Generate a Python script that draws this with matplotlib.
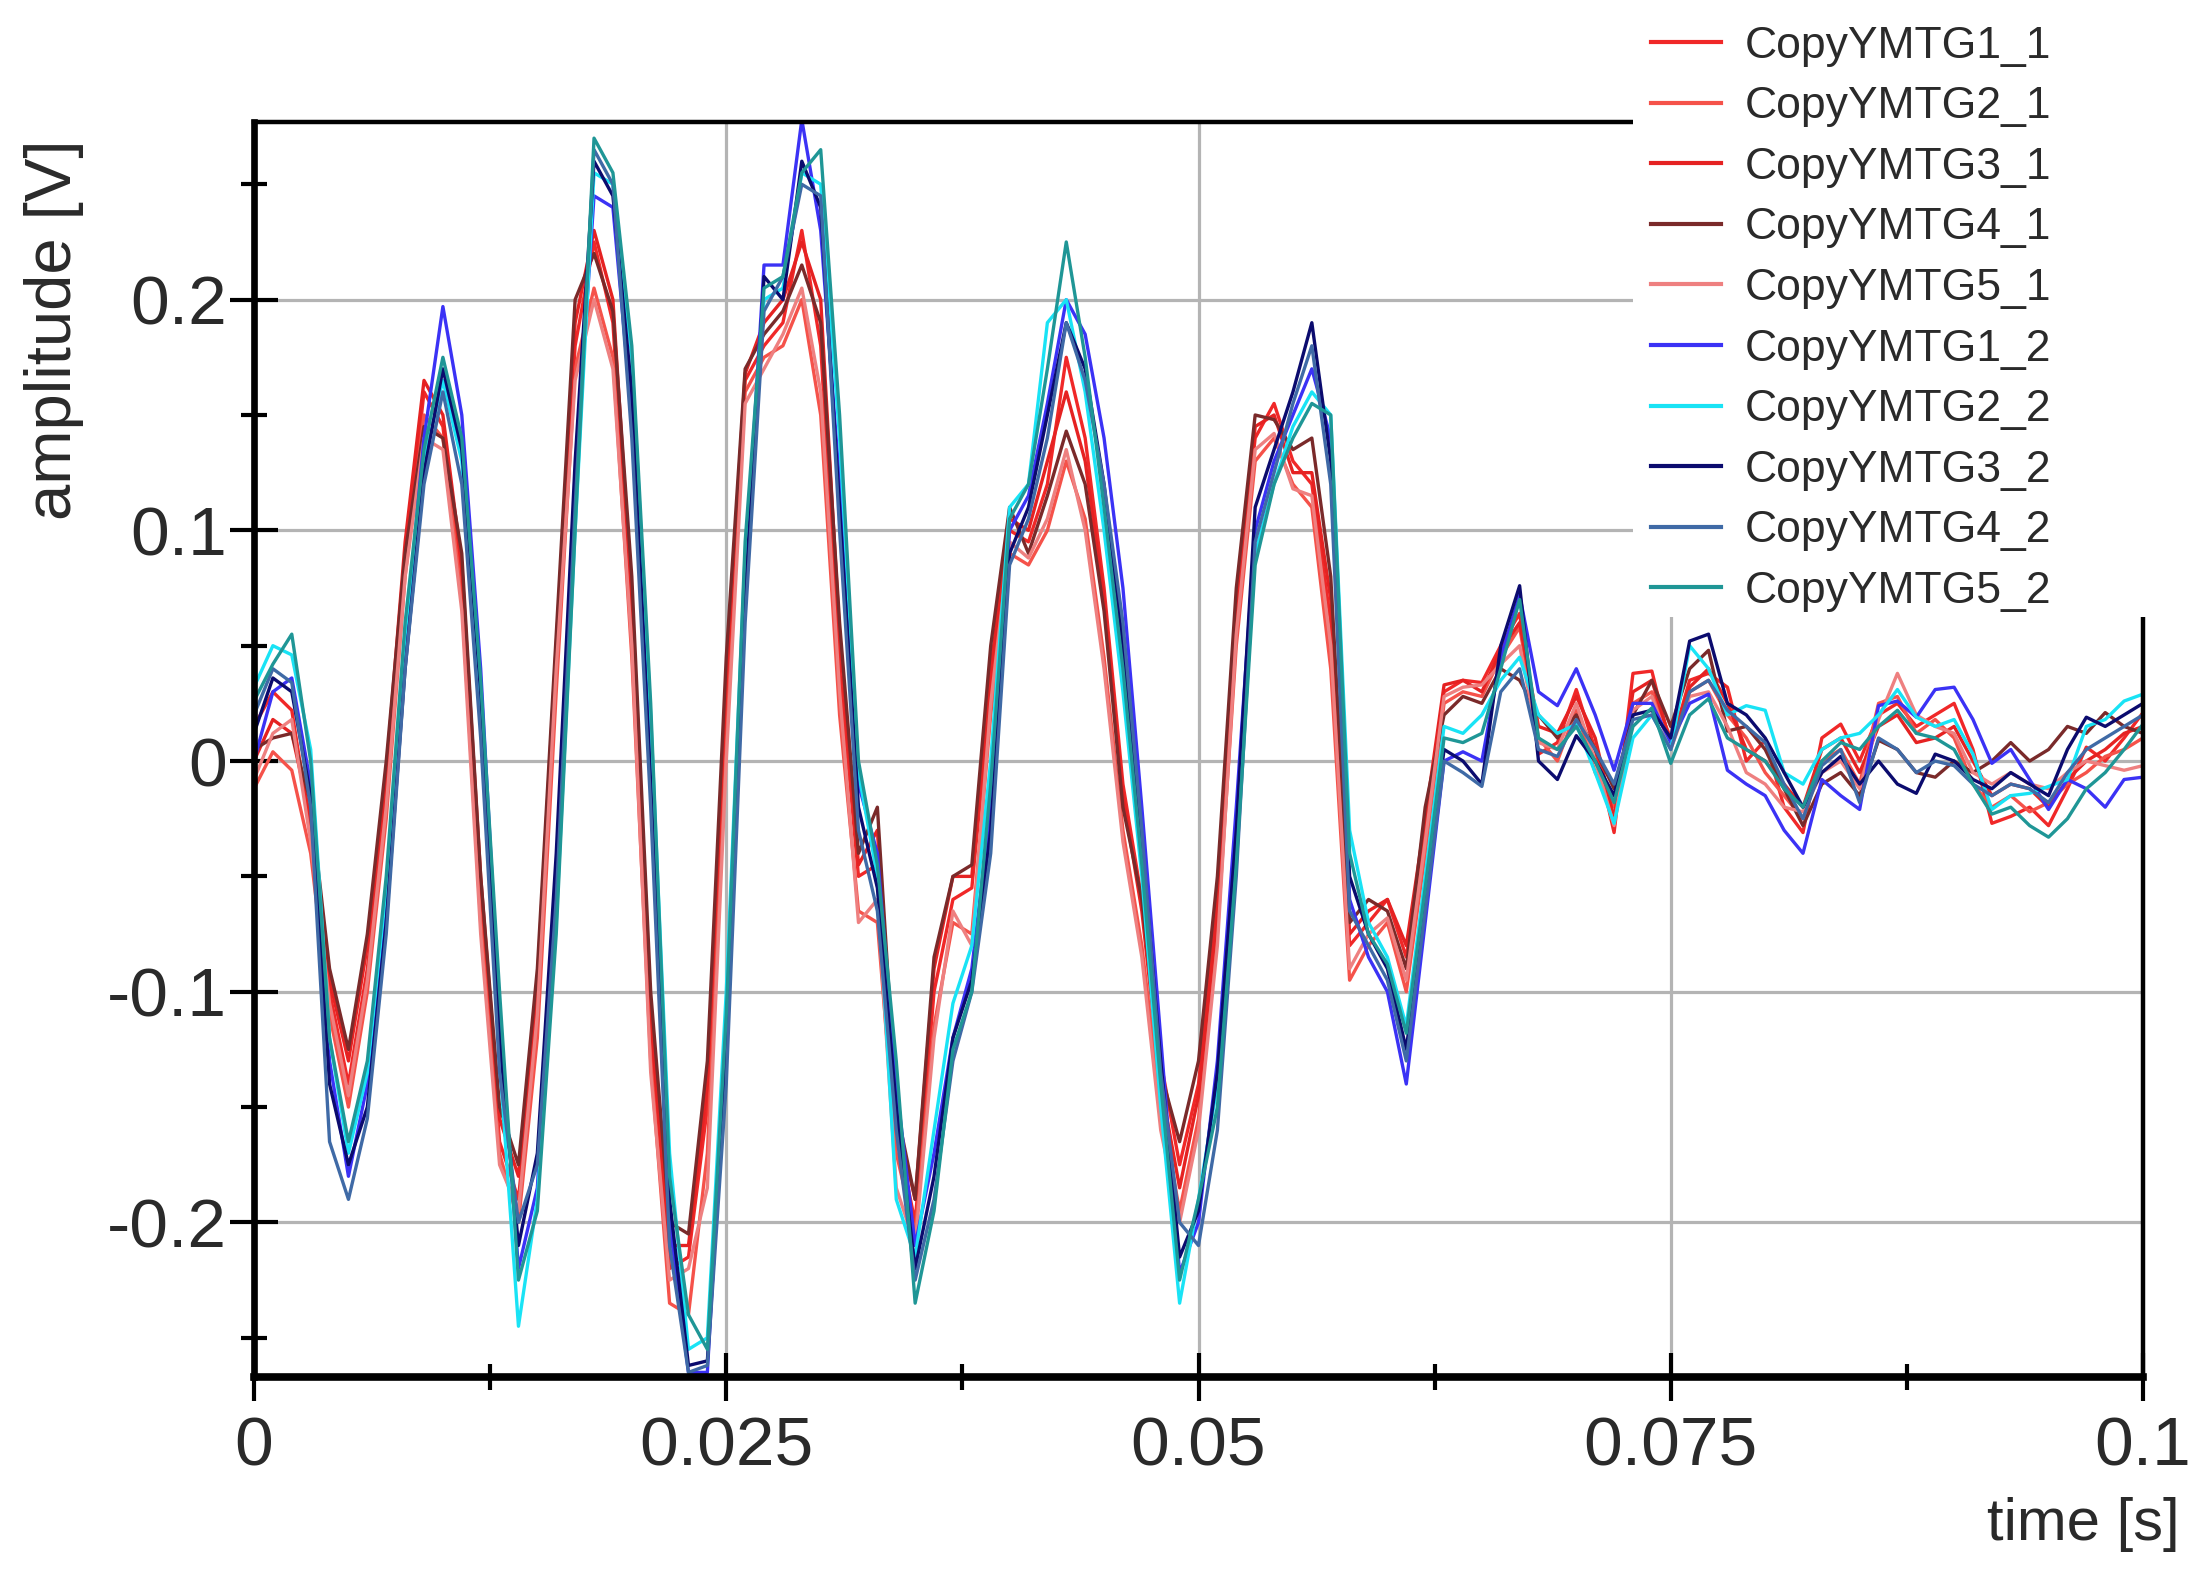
import matplotlib
matplotlib.use("Agg")
import matplotlib.pyplot as plt
from matplotlib.patches import Rectangle
from matplotlib.ticker import FixedLocator
import numpy as np

plt.rcParams['font.family'] = ['Liberation Sans', 'DejaVu Sans']
plt.rcParams['axes.unicode_minus'] = False

# one sample per millisecond, 0 .. 0.1 s
time_s = np.arange(101) * 0.001

ymtg1_1 = [0.015, 0.03, 0.022, -0.03, -0.1, -0.14, -0.09, -0.015, 0.085, 0.16,
           0.145, 0.08, -0.06, -0.165, -0.19, -0.105, 0.045, 0.18, 0.225, 0.19,
           0.06, -0.12, -0.22, -0.215, -0.15, 0.02, 0.165, 0.18, 0.19, 0.23,
           0.18, 0.04, -0.05, -0.045, -0.16, -0.2, -0.1, -0.06, -0.055, 0.03,
           0.1, 0.095, 0.12, 0.175, 0.14, 0.075, -0.01, -0.06, -0.13, -0.175,
           -0.14, -0.06, 0.065, 0.14, 0.155, 0.13, 0.12, 0.06, -0.08, -0.07,
           -0.06, -0.085, -0.03, 0.03, 0.035, 0.034, 0.05, 0.064, 0.003, 0.008,
           0.031, 0.005, -0.031, 0.038, 0.039, 0.006, 0.035, 0.038, 0.032, 0.0,
           0.009, -0.02, -0.031, 0.01, 0.016, 0.0, 0.02, 0.025, 0.015, 0.02,
           0.025, 0.005, -0.027, -0.024, -0.02, -0.028, -0.012, 0.006, 0.0, 0.01, 0.021]

ymtg2_1 = [-0.012, 0.004, -0.004, -0.04, -0.11, -0.15, -0.1, -0.025, 0.08, 0.15,
           0.14, 0.07, -0.07, -0.17, -0.2, -0.12, 0.03, 0.17, 0.205, 0.175,
           0.045, -0.13, -0.235, -0.24, -0.17, 0.01, 0.16, 0.175, 0.18, 0.2,
           0.15, 0.02, -0.065, -0.07, -0.17, -0.205, -0.115, -0.07, -0.075, 0.02,
           0.09, 0.085, 0.1, 0.13, 0.105, 0.045, -0.03, -0.08, -0.15, -0.195,
           -0.155, -0.075, 0.05, 0.13, 0.14, 0.12, 0.11, 0.04, -0.095, -0.08,
           -0.07, -0.1, -0.04, 0.025, 0.03, 0.028, 0.045, 0.058, 0.01, 0.0,
           0.022, -0.005, -0.02, 0.025, 0.03, 0.01, 0.03, 0.035, 0.02, 0.01,
           -0.005, -0.015, -0.025, 0.0, 0.005, -0.01, 0.025, 0.028, 0.012, 0.018,
           0.01, -0.01, -0.02, -0.015, -0.022, -0.018, -0.01, -0.005, 0.002, 0.005, 0.01]

ymtg3_1 = [0.0, 0.018, 0.012, -0.025, -0.095, -0.13, -0.08, -0.005, 0.095, 0.165,
           0.15, 0.085, -0.05, -0.155, -0.18, -0.095, 0.05, 0.19, 0.23, 0.2,
           0.07, -0.11, -0.21, -0.21, -0.14, 0.035, 0.168, 0.19, 0.2, 0.225,
           0.2, 0.055, -0.045, -0.03, -0.155, -0.19, -0.09, -0.05, -0.05, 0.04,
           0.105, 0.1, 0.13, 0.16, 0.13, 0.07, -0.015, -0.065, -0.14, -0.185,
           -0.145, -0.065, 0.06, 0.145, 0.15, 0.125, 0.125, 0.07, -0.075, -0.065,
           -0.06, -0.08, -0.025, 0.033, 0.035, 0.03, 0.048, 0.06, 0.015, 0.012,
           0.028, 0.01, -0.025, 0.03, 0.035, 0.008, 0.032, 0.04, 0.025, 0.005,
           0.0, -0.01, -0.02, 0.005, 0.01, -0.005, 0.015, 0.02, 0.008, 0.01,
           0.015, 0.0, -0.015, -0.01, -0.012, -0.02, -0.008, 0.0, 0.005, 0.012, 0.015]

ymtg4_1 = [0.005, 0.01, 0.012, -0.018, -0.09, -0.125, -0.075, 0.0, 0.09, 0.145,
           0.14, 0.09, -0.05, -0.15, -0.175, -0.09, 0.055, 0.2, 0.22, 0.195,
           0.08, -0.1, -0.2, -0.205, -0.13, 0.045, 0.17, 0.185, 0.195, 0.215,
           0.19, 0.06, -0.04, -0.02, -0.15, -0.19, -0.085, -0.05, -0.045, 0.05,
           0.11, 0.09, 0.115, 0.143, 0.12, 0.065, -0.02, -0.06, -0.135, -0.165,
           -0.13, -0.05, 0.075, 0.15, 0.148, 0.135, 0.14, 0.08, -0.07, -0.06,
           -0.065, -0.09, -0.02, 0.02, 0.028, 0.025, 0.04, 0.035, 0.02, 0.01,
           0.02, 0.005, -0.012, 0.02, 0.035, 0.015, 0.04, 0.048, 0.013, 0.015,
           0.005, -0.012, -0.028, -0.01, -0.005, -0.015, 0.009, 0.005, -0.005, -0.007,
           0.0, -0.005, 0.0, 0.008, 0.0, 0.005, 0.015, 0.012, 0.021, 0.015, 0.012]

ymtg5_1 = [-0.008, 0.012, 0.018, -0.035, -0.105, -0.145, -0.095, -0.02, 0.08, 0.14,
           0.135, 0.065, -0.075, -0.175, -0.195, -0.11, 0.04, 0.165, 0.2, 0.17,
           0.05, -0.135, -0.225, -0.22, -0.185, 0.0, 0.155, 0.17, 0.185, 0.205,
           0.16, 0.03, -0.07, -0.06, -0.185, -0.21, -0.12, -0.065, -0.08, 0.025,
           0.095, 0.088, 0.105, 0.135, 0.1, 0.04, -0.035, -0.085, -0.16, -0.2,
           -0.16, -0.08, 0.055, 0.135, 0.142, 0.118, 0.115, 0.05, -0.09, -0.075,
           -0.068, -0.095, -0.035, 0.028, 0.032, 0.033, 0.042, 0.05, 0.008, 0.005,
           0.025, 0.0, -0.028, 0.022, 0.028, 0.005, 0.028, 0.03, 0.015, -0.005,
           -0.01, -0.02, -0.022, -0.005, 0.0, -0.012, 0.018, 0.038, 0.02, 0.015,
           0.012, -0.005, -0.01, -0.005, -0.01, -0.012, -0.005, 0.0, -0.002, -0.004, -0.002]

ymtg1_2 = [0.0, 0.03, 0.036, -0.01, -0.13, -0.18, -0.14, -0.06, 0.05, 0.14,
           0.197, 0.15, 0.04, -0.11, -0.22, -0.185, -0.05, 0.12, 0.245, 0.24,
           0.15, 0.0, -0.2, -0.265, -0.265, -0.12, 0.08, 0.215, 0.215, 0.278,
           0.23, 0.12, -0.01, -0.04, -0.14, -0.21, -0.17, -0.12, -0.09, -0.02,
           0.1, 0.115, 0.155, 0.2, 0.185, 0.14, 0.075, -0.02, -0.12, -0.222,
           -0.2, -0.13, -0.02, 0.1, 0.13, 0.15, 0.17, 0.14, -0.06, -0.085,
           -0.1, -0.14, -0.07, 0.0, 0.004, 0.0, 0.045, 0.072, 0.03, 0.024,
           0.04, 0.02, -0.004, 0.025, 0.025, 0.008, 0.025, 0.029, -0.004, -0.01,
           -0.015, -0.03, -0.04, -0.008, -0.015, -0.021, 0.024, 0.026, 0.019, 0.031,
           0.032, 0.018, -0.001, 0.005, -0.008, -0.021, -0.008, -0.012, -0.02, -0.008, -0.007]

ymtg2_2 = [0.032, 0.05, 0.046, 0.005, -0.12, -0.17, -0.135, -0.055, 0.055, 0.13,
           0.165, 0.13, 0.02, -0.13, -0.245, -0.19, -0.07, 0.1, 0.255, 0.25,
           0.175, 0.02, -0.17, -0.255, -0.25, -0.1, 0.09, 0.2, 0.205, 0.255,
           0.25, 0.14, -0.005, -0.05, -0.19, -0.215, -0.16, -0.105, -0.08, 0.0,
           0.11, 0.12, 0.19, 0.2, 0.16, 0.1, 0.03, -0.05, -0.15, -0.235,
           -0.19, -0.14, -0.04, 0.09, 0.12, 0.145, 0.16, 0.15, -0.03, -0.07,
           -0.085, -0.115, -0.05, 0.015, 0.012, 0.02, 0.035, 0.045, 0.02, 0.012,
           0.016, -0.005, -0.027, 0.01, 0.02, 0.005, 0.05, 0.04, 0.02, 0.024,
           0.022, -0.005, -0.01, 0.005, 0.01, 0.012, 0.02, 0.031, 0.019, 0.015,
           0.018, 0.003, -0.021, -0.015, -0.014, -0.011, -0.008, 0.015, 0.018, 0.026, 0.029]

ymtg3_2 = [0.012, 0.036, 0.03, -0.015, -0.14, -0.175, -0.15, -0.07, 0.04, 0.125,
           0.17, 0.135, 0.03, -0.12, -0.21, -0.17, -0.04, 0.13, 0.26, 0.245,
           0.16, -0.01, -0.19, -0.262, -0.26, -0.13, 0.07, 0.21, 0.2, 0.26,
           0.24, 0.11, -0.02, -0.055, -0.15, -0.22, -0.18, -0.12, -0.095, -0.03,
           0.09, 0.11, 0.15, 0.19, 0.17, 0.12, 0.05, -0.035, -0.13, -0.215,
           -0.195, -0.135, -0.03, 0.11, 0.135, 0.16, 0.19, 0.13, -0.05, -0.075,
           -0.09, -0.125, -0.06, 0.005, 0.0, -0.01, 0.05, 0.076, 0.0, -0.008,
           0.011, 0.0, -0.015, 0.02, 0.022, 0.01, 0.052, 0.055, 0.025, 0.02,
           0.01, -0.005, -0.02, -0.005, 0.002, -0.01, 0.0, -0.01, -0.014, 0.003,
           0.0, -0.008, -0.012, -0.005, -0.01, -0.015, 0.005, 0.019, 0.015, 0.02, 0.025]

ymtg4_2 = [0.02, 0.04, 0.034, -0.02, -0.165, -0.19, -0.155, -0.075, 0.04, 0.12,
           0.16, 0.12, 0.01, -0.135, -0.2, -0.175, -0.06, 0.11, 0.265, 0.25,
           0.14, -0.02, -0.21, -0.265, -0.262, -0.14, 0.06, 0.195, 0.21, 0.25,
           0.245, 0.1, -0.03, -0.065, -0.16, -0.225, -0.19, -0.13, -0.1, -0.04,
           0.085, 0.105, 0.14, 0.19, 0.165, 0.12, 0.06, -0.03, -0.135, -0.2,
           -0.21, -0.16, -0.05, 0.095, 0.125, 0.155, 0.18, 0.12, -0.065, -0.08,
           -0.095, -0.13, -0.065, 0.0, -0.005, -0.011, 0.03, 0.04, 0.005, 0.002,
           0.018, 0.005, -0.01, 0.018, 0.02, 0.005, 0.03, 0.035, 0.022, 0.015,
           0.008, -0.01, -0.025, -0.002, 0.005, -0.018, 0.01, 0.005, -0.005, 0.0,
           -0.002, -0.01, -0.015, -0.01, -0.012, -0.018, -0.005, 0.005, 0.01, 0.015, 0.02]

ymtg5_2 = [0.026, 0.042, 0.055, 0.0, -0.12, -0.165, -0.13, -0.05, 0.06, 0.135,
           0.175, 0.14, 0.035, -0.1, -0.225, -0.195, -0.075, 0.1, 0.27, 0.255,
           0.18, 0.025, -0.18, -0.24, -0.255, -0.11, 0.095, 0.205, 0.21, 0.255,
           0.265, 0.15, 0.0, -0.045, -0.13, -0.235, -0.195, -0.125, -0.1, -0.01,
           0.105, 0.12, 0.17, 0.225, 0.175, 0.11, 0.04, -0.045, -0.14, -0.225,
           -0.19, -0.15, -0.045, 0.085, 0.12, 0.14, 0.155, 0.15, -0.04, -0.075,
           -0.088, -0.118, -0.055, 0.01, 0.008, 0.012, 0.04, 0.07, 0.01, 0.005,
           0.015, 0.0, -0.018, 0.015, 0.023, -0.001, 0.02, 0.027, 0.01, 0.005,
           0.0, -0.012, -0.02, 0.0, 0.008, 0.005, 0.015, 0.022, 0.012, 0.01,
           0.005, -0.01, -0.023, -0.02, -0.028, -0.033, -0.025, -0.012, -0.005, 0.005, 0.016]

series = [ymtg1_1, ymtg2_1, ymtg3_1, ymtg4_1, ymtg5_1,
          ymtg1_2, ymtg2_2, ymtg3_2, ymtg4_2, ymtg5_2]
labels = ['CopyYMTG1_1', 'CopyYMTG2_1', 'CopyYMTG3_1', 'CopyYMTG4_1', 'CopyYMTG5_1',
          'CopyYMTG1_2', 'CopyYMTG2_2', 'CopyYMTG3_2', 'CopyYMTG4_2', 'CopyYMTG5_2']
colors = ['#f02828', '#f5524a', '#e52222', '#7a2a2a', '#ee8080',
          '#3b32f5', '#19e3f5', '#0b0b6e', '#3f6aa6', '#1f9696']

x_ticks = [0, 0.025, 0.05, 0.075, 0.1]
x_tick_labels = ['0', '0.025', '0.05', '0.075', '0.1']
y_ticks = [-0.2, -0.1, 0, 0.1, 0.2]
y_tick_labels = ['-0.2', '-0.1', '0', '0.1', '0.2']
x_minor = [0.0125, 0.0375, 0.0625, 0.0875]
y_minor = [-0.25, -0.15, -0.05, 0.05, 0.15, 0.25]

W, H = 2198, 1574
fig = plt.figure(figsize=(W / 100, H / 100), dpi=100)
fig.patch.set_facecolor('white')
ax = fig.add_axes([254 / W, 1 - 1377 / H, (2143 - 254) / W, (1377 - 122) / H])

handles = []
for vals, name, col in zip(series, labels, colors):
    line, = ax.plot(time_s, vals, color=col, lw=2.4, label=name)
    handles.append(line)

ax.set_xlim(0, 0.1)
ax.set_ylim(-0.267, 0.277)

ax.xaxis.set_major_locator(FixedLocator(x_ticks))
ax.set_xticklabels(x_tick_labels)
ax.yaxis.set_major_locator(FixedLocator(y_ticks))
ax.set_yticklabels(y_tick_labels)
ax.xaxis.set_minor_locator(FixedLocator(x_minor))
ax.yaxis.set_minor_locator(FixedLocator(y_minor))

ax.tick_params(which='major', direction='inout', length=35, width=3,
               color='black', labelsize=50, labelcolor='#2a2a2a')
ax.tick_params(which='minor', direction='inout', length=19, width=3, color='black')
ax.tick_params(axis='x', which='major', pad=10)
ax.tick_params(axis='y', which='major', pad=2)

ax.grid(True, which='major', color='#b4b4b4', lw=2.3)
ax.set_axisbelow(True)

ax.spines['bottom'].set_linewidth(5.5)
ax.spines['left'].set_linewidth(4.8)
ax.spines['top'].set_linewidth(3.2)
ax.spines['right'].set_linewidth(3.2)

ax.set_ylabel('amplitude [V]', fontsize=47, color='#2a2a2a', loc='top')
ax.yaxis.set_label_coords(-0.090, 0.986)
ax.set_xlabel('time [s]', fontsize=43, color='#2a2a2a', loc='right')
ax.xaxis.set_label_coords(1.0196, -0.0956)

# white area behind the legend hides the frame corner, like the original
fig.patches.append(Rectangle((1633 / W, 1 - 617 / H), 1 - 1633 / W, 617 / H,
                             transform=fig.transFigure, facecolor='white',
                             edgecolor='none', zorder=1))

leg = fig.legend(handles, labels, loc='upper left',
                 bbox_to_anchor=(1633 / W, 1 - 8 / H),
                 frameon=False, fontsize=32, handlelength=1.58, handletextpad=0.54,
                 labelspacing=0.44, borderpad=0.4, borderaxespad=0)
for txt in leg.get_texts():
    txt.set_color('#2a2a2a')
for ln in leg.get_lines():
    ln.set_linewidth(3)

fig.savefig('out.png', dpi=100, facecolor='white')
